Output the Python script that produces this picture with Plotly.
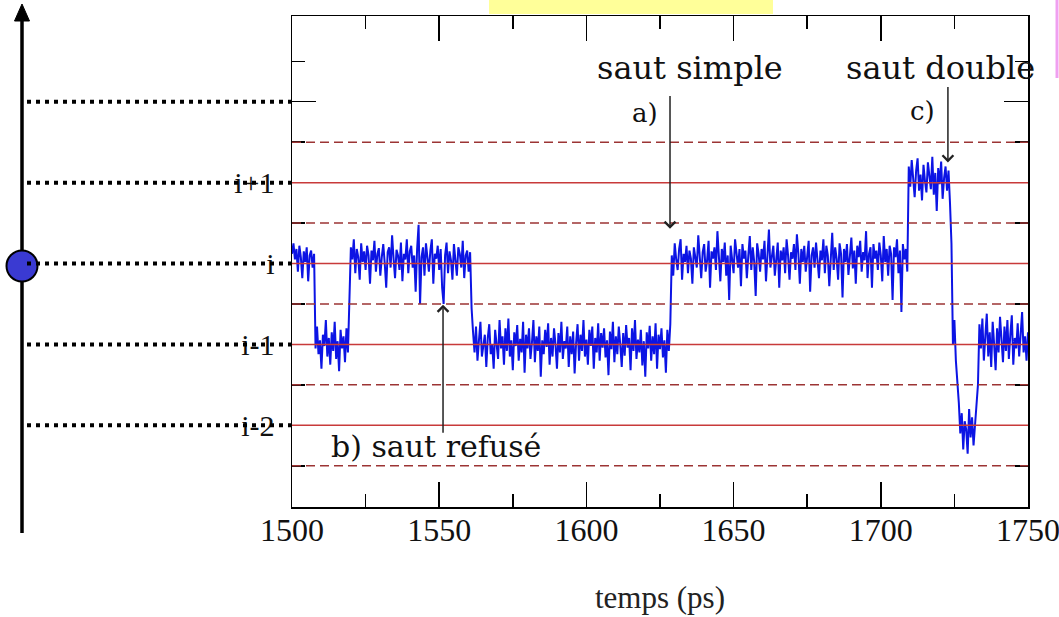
import numpy as np
import plotly.graph_objects as go

# ---------------- data ----------------
t_start, t_step = 1500.0, 0.5   # sampling of the trajectory (ps)

# position of the particle, in units of lattice sites (site i = 0)
signal = [
    # 1500 - 1507.5 : site i
    0.12, 0.25, 0.05, 0.18, -0.10, 0.22, 0.08, -0.18, 0.15, 0.02, 0.20, -0.22, 0.10, 0.16, -0.05, 0.12,
    # 1508 - 1519 : site i-1
    -1.05, -0.78, -1.12, -0.95, -1.30, -0.88, -1.02, -0.70, -1.15, -0.92, -1.25, -0.85,
    -1.08, -0.72, -1.18, -0.96, -1.33, -0.82, -1.05, -0.90, -1.22, -0.80, -1.10,
    -0.55,
    # 1520 - 1560.5 : site i (b: refused jump)
    0.20, 0.05, 0.30, -0.12, 0.18, 0.08, -0.20, 0.25, 0.02, 0.15,
    -0.08, 0.22, 0.10, -0.25, 0.16, 0.04, 0.28, -0.10, 0.12, 0.19,
    -0.15, 0.08, 0.24, 0.00, -0.30, 0.14, 0.20, -0.05, 0.35, 0.06,
    -0.18, 0.17, 0.10, -0.08, 0.26, -0.22, 0.12, 0.05, 0.30, -0.12,
    0.15, 0.22, -0.05, 0.10, -0.35, 0.18, 0.48, -0.50, 0.08, 0.20,
    -0.15, 0.25, 0.02, -0.10, 0.16, 0.30, -0.25, 0.12, 0.06, 0.22,
    -0.08, 0.18, -0.30, -0.50, 0.10, 0.26, -0.12, 0.15, 0.04, -0.20,
    0.24, 0.08, -0.15, 0.20, 0.12, -0.05, 0.28, -0.18, 0.10, 0.16, -0.10, 0.14,
    -0.55,
    # 1561.5 - 1628.5 : site i-1
    -0.85, -1.10, -0.78, -1.20, -0.95, -0.72, -1.15, -1.02, -0.88, -1.28,
    -0.92, -0.75, -1.12, -1.00, -1.30, -0.82, -0.98, -1.18, -0.70, -1.05,
    -0.90, -1.25, -0.80, -1.08, -0.68, -1.15, -0.95, -1.32, -0.85, -1.02,
    -0.76, -1.20, -0.93, -1.10, -0.72, -1.35, -0.88, -1.05, -0.80, -1.18,
    -0.98, -0.70, -1.22, -0.90, -1.08, -0.78, -1.40, -0.95, -1.12, -0.82,
    -1.03, -0.74, -1.25, -0.92, -1.15, -0.80, -1.00, -1.30, -0.86, -1.10,
    -0.72, -1.18, -0.96, -1.05, -0.78, -1.28, -0.90, -1.12, -0.84, -1.36,
    -0.98, -0.75, -1.20, -0.88, -1.08, -0.70, -1.15, -0.94, -1.25, -0.82,
    -1.02, -0.78, -1.30, -0.92, -1.10, -0.74, -1.20, -0.86, -1.04, -0.80,
    -1.16, -0.95, -1.38, -0.84, -1.06, -0.72, -1.22, -0.90, -1.12, -0.78,
    -1.00, -1.28, -0.86, -1.14, -0.76, -1.04, -0.92, -1.32, -0.80, -1.08,
    -0.70, -1.18, -0.94, -1.10, -0.82, -1.26, -0.96, -1.40, -0.85, -1.05,
    -0.77, -1.20, -0.90, -1.12, -0.74, -1.30, -0.88, -1.06, -0.80, -1.16,
    -0.95, -1.35, -0.82, -1.08, -0.75,
    # 1629 - 1709 : site i (a: simple jump)
    0.10, -0.15, 0.25, 0.05, -0.08, 0.18, 0.30, -0.20, 0.12, 0.02,
    0.22, -0.12, 0.16, 0.06, -0.25, 0.20, 0.10, -0.05, 0.35, 0.08,
    -0.18, 0.14, 0.24, -0.10, 0.04, 0.28, -0.30, 0.15, 0.06, 0.20,
    -0.08, 0.40, 0.12, -0.22, 0.18, 0.02, 0.26, -0.15, 0.10, -0.45,
    0.22, 0.08, -0.12, 0.30, 0.14, -0.05, 0.18, -0.28, 0.24, 0.06,
    0.16, -0.18, 0.10, 0.34, -0.08, 0.20, 0.02, -0.40, 0.25, 0.12,
    -0.10, 0.18, 0.05, 0.28, -0.22, 0.15, 0.42, -0.05, 0.10, 0.22,
    -0.15, 0.08, 0.26, -0.30, 0.16, 0.04, 0.20, -0.12, 0.30, 0.10,
    -0.20, 0.14, 0.06, 0.24, -0.08, 0.36, 0.12, -0.25, 0.18, 0.02,
    0.22, -0.10, 0.15, 0.28, -0.35, 0.10, 0.20, -0.05, 0.26, 0.08,
    -0.18, 0.16, 0.04, 0.30, -0.12, 0.22, 0.10, -0.28, 0.14, 0.38,
    -0.08, 0.20, 0.06, -0.20, 0.25, 0.12, -0.42, 0.18, 0.02, 0.24,
    -0.14, 0.10, 0.32, -0.06, 0.16, -0.25, 0.22, 0.08, 0.28, -0.10,
    0.14, 0.04, 0.40, -0.18, 0.12, 0.20, -0.30, 0.24, 0.06, 0.16,
    -0.08, 0.26, 0.10, -0.22, 0.34, 0.02, 0.18, -0.15, 0.22, 0.12,
    -0.45, 0.20, 0.08, 0.30, -0.12, 0.16, -0.60, 0.24, 0.05, 0.18,
    -0.10,
    # 1709.5 - 1723.5 : site i+1 (c: double jump)
    1.20, 0.95, 1.28, 1.05, 0.82, 1.15, 1.30, 0.90, 1.10, 0.78,
    1.22, 1.02, 0.88, 1.25, 1.08, 0.92, 1.32, 0.85, 1.12, 0.65,
    1.18, 0.98, 1.26, 0.80, 1.06, 1.20, 0.90, 1.15, 0.75,
    0.25,
    # 1724.5 - 1726 : passing through site i-1
    -1.00, -0.70, -1.20, -1.45,
    # 1726.5 - 1733 : site i-2
    -1.72, -2.10, -1.85, -2.30, -1.95, -2.05, -2.35, -1.80, -2.15, -1.90, -2.25, -2.00, -1.75, -1.50,
    # 1733.5 - 1750 : site i-1
    -0.75, -1.05, -0.68, -1.20, -0.90, -0.62, -1.15, -0.85, -1.28, -0.72,
    -1.00, -1.32, -0.80, -1.10, -0.66, -0.95, -1.22, -0.78, -1.08, -0.70,
    -1.18, -0.88, -0.64, -1.25, -0.92, -1.05, -0.74, -1.15, -0.82, -0.60,
    -1.10, -0.90, -1.20, -0.85,
]
time = t_start + t_step * np.arange(len(signal))

solid_levels = [1, 0, -1, -2]
dashed_levels = [1.5, 0.5, -0.5, -1.5, -2.5]
dotted_levels = [2, 1, 0, -1, -2]

x_major = [1500, 1550, 1600, 1650, 1700, 1750]
x_minor = [1525, 1575, 1625, 1675, 1725]
y_major = [-2, -1, 0, 1, 2]
y_labels = ["i-2", "i-1", "i", "i+1", ""]
y_minor = [-2.5, -1.5, -0.5, 0.5, 1.5, 2.5]

x_title = "temps (ps)"

# ---------------- layout helpers ----------------
W, H = 1059, 617
ML, MR, MT, MB = 292, 31, 16, 110
PW, PH = W - ML - MR, H - MT - MB


def px(xp):
    return (xp - ML) / PW


def py(yp):
    return (H - MB - yp) / PH


SERIF = "Liberation Serif"
SERIF2 = "DejaVu Serif"

fig = go.Figure()
fig.add_trace(go.Scatter(x=time, y=signal, mode="lines",
                         line=dict(color="#0c14e4", width=2.0),
                         showlegend=False, hoverinfo="skip"))
fig.add_trace(go.Scatter(x=[None], y=[None], xaxis="x2", yaxis="y2",
                         showlegend=False, hoverinfo="skip"))

shapes = []
for lv in solid_levels:
    shapes.append(dict(type="line", xref="paper", yref="y", x0=0, x1=1, y0=lv, y1=lv,
                       line=dict(color="#c83a3a", width=1.5), layer="above"))
for lv in dashed_levels:
    shapes.append(dict(type="line", xref="paper", yref="y", x0=0, x1=1, y0=lv, y1=lv,
                       line=dict(color="#9c3434", width=1.5, dash="9px,5px"), layer="above"))

# big vertical arrow on the left
shapes.append(dict(type="line", xref="paper", yref="paper",
                   x0=px(22), x1=px(22), y0=py(533), y1=py(18),
                   line=dict(color="black", width=3.5)))
shapes.append(dict(type="path", xref="paper", yref="paper",
                   path=f"M {px(22)},{py(4)} L {px(14.5)},{py(21)} L {px(29.5)},{py(21)} Z",
                   fillcolor="black", line=dict(color="black", width=1)))
# particle
shapes.append(dict(type="circle", xref="paper", yref="paper",
                   x0=px(6.5), x1=px(37.5), y0=py(281.5), y1=py(250.5),
                   fillcolor="#3a3ad2", line=dict(color="black", width=2)))
# dotted level lines
for lv in dotted_levels:
    shapes.append(dict(type="line", xref="paper", yref="y", x0=px(27), x1=0, y0=lv, y1=lv,
                       line=dict(color="black", width=4, dash="4px,5px")))
# yellow box at top, pink edge at right
shapes.append(dict(type="rect", xref="paper", yref="paper",
                   x0=px(489), x1=px(773), y0=py(14), y1=py(-2),
                   fillcolor="#ffff99", line=dict(width=0)))
shapes.append(dict(type="line", xref="paper", yref="paper",
                   x0=px(1057), x1=px(1057), y0=py(78), y1=py(-2),
                   line=dict(color="#f0a0f0", width=3)))

ann = []
txt = dict(showarrow=False, xref="x", yref="y", font=dict(family=SERIF2, size=32, color="#111"))
ann.append(dict(text="saut simple", x=1635.2, y=2.42, **txt))
ann.append(dict(text="saut double", x=1720.4, y=2.42, **txt))
small = dict(showarrow=False, xref="x", yref="y", font=dict(family=SERIF2, size=26, color="#111"))
ann.append(dict(text="a)", x=1619.9, y=1.86, **small))
ann.append(dict(text="c)", x=1714.0, y=1.89, **small))
ann.append(dict(text="b) saut refusé", x=1548.9, y=-2.26, showarrow=False, xref="x", yref="y",
                font=dict(family=SERIF2, size=30, color="#111")))

arrow = dict(text="", showarrow=True, xref="x", yref="y", axref="x", ayref="y",
             arrowhead=4, arrowsize=1.4, arrowwidth=1.5, arrowcolor="#222")
ann.append(dict(x=1628.4, y=0.43, ax=1628.4, ay=2.09, **arrow))
ann.append(dict(x=1722.8, y=1.25, ax=1722.8, ay=2.2, **arrow))
ann.append(dict(x=1551.3, y=-0.51, ax=1551.3, ay=-2.11, **arrow))

ann.append(dict(text=x_title, showarrow=False, xref="paper", yref="paper",
                xanchor="center", yanchor="middle",
                x=px(660), y=py(597), font=dict(family=SERIF, size=31, color="#222")))

common_x = dict(range=[1500, 1750], tickmode="array", tickvals=x_major,
                ticks="inside", ticklen=25, tickwidth=1.5, tickcolor="black",
                minor=dict(tickmode="array", tickvals=x_minor, ticks="inside",
                           ticklen=13, tickwidth=1.5, tickcolor="black"),
                showline=True, linecolor="black", linewidth=1.5, automargin=False,
                showgrid=False, zeroline=False, fixedrange=True)
common_y = dict(range=[-3.01, 3.06], tickmode="array", tickvals=y_major,
                ticks="inside", ticklen=24, tickwidth=1.5, tickcolor="black",
                minor=dict(tickmode="array", tickvals=y_minor, ticks="inside",
                           ticklen=13, tickwidth=1.5, tickcolor="black"),
                showline=True, linecolor="black", linewidth=1.5, automargin=False,
                showgrid=False, zeroline=False, fixedrange=True)

fig.update_layout(
    width=W, height=H,
    margin=dict(l=ML, r=MR, t=MT, b=MB, autoexpand=False),
    paper_bgcolor="white", plot_bgcolor="white",
    xaxis=dict(**common_x, side="bottom", ticktext=[str(v) for v in x_major],
               tickfont=dict(family=SERIF, size=32, color="#111"), ticklabelstandoff=-6,
               ticklabeloverflow="allow"),
    xaxis2=dict(**common_x, side="top", overlaying="x", showticklabels=False),
    yaxis=dict(**common_y, side="left", ticktext=y_labels,
               tickfont=dict(family=SERIF, size=30, color="#111"), ticklabelstandoff=10),
    yaxis2=dict(**common_y, side="right", overlaying="y", showticklabels=False),
    shapes=shapes,
    annotations=ann,
    showlegend=False,
)

fig.write_html("out.html", config={"displayModeBar": False, "staticPlot": True},
               post_script="document.body.style.margin='0px';document.body.style.overflow='hidden';")
